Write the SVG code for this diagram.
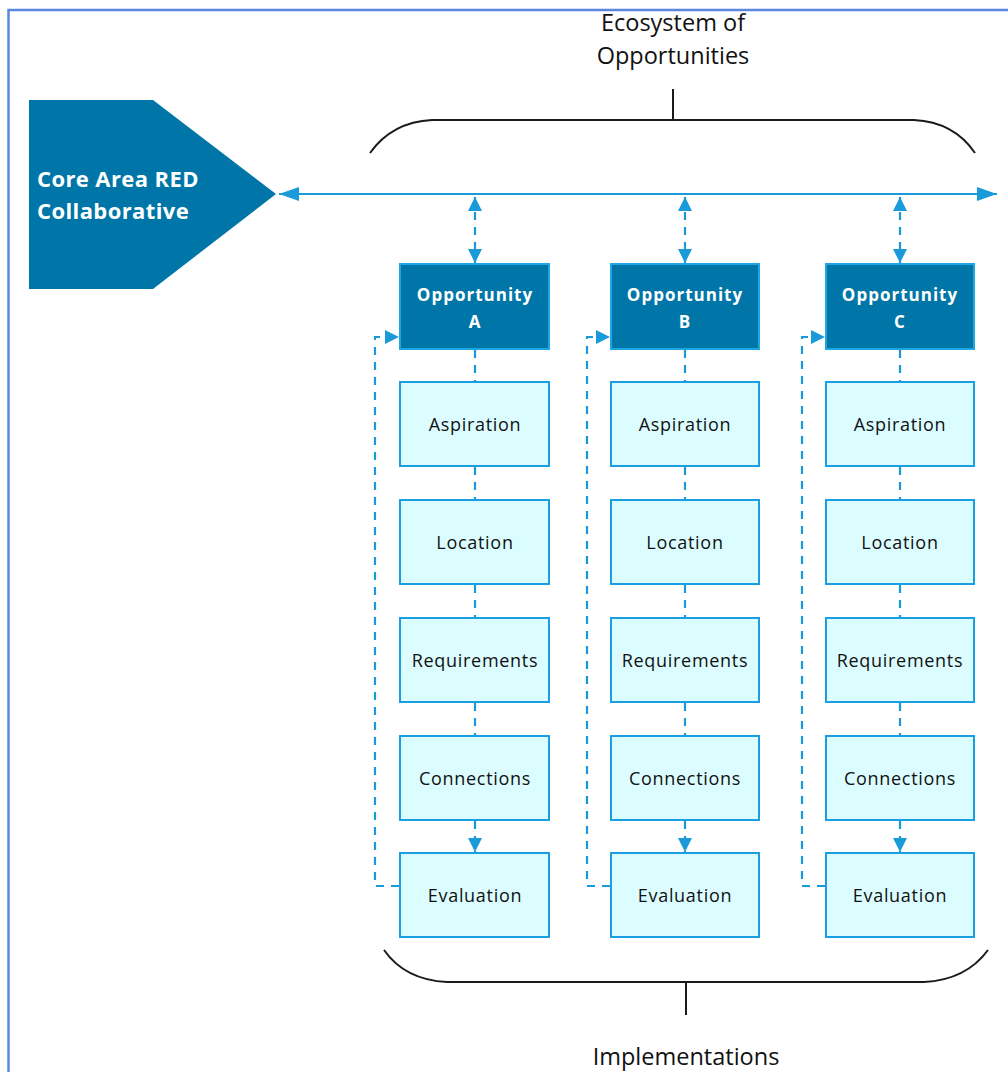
<svg xmlns="http://www.w3.org/2000/svg" width="1008" height="1072" viewBox="0 0 1008 1072">
  <defs>
    <style>
      .frame { fill: none; stroke: #5b86e0; stroke-width: 2.5; }
      .brace { fill: none; stroke: #1a1a1a; stroke-width: 2; }
      .lbl { font-family: "Open Sans", "Liberation Sans", sans-serif; font-size: 23.5px; fill: #111; text-anchor: middle; }
      .core { fill: #0076a8; }
      .coret { font-family: "Open Sans", "Liberation Sans", sans-serif; font-size: 22px; font-weight: bold; fill: #ffffff; letter-spacing: 0.4px; }
      .opp { fill: #0076a8; stroke: #1ea5e3; stroke-width: 2; }
      .oppt { font-family: "Open Sans", "Liberation Sans", sans-serif; font-size: 17px; font-weight: bold; fill: #ffffff; text-anchor: middle; letter-spacing: 1px; }
      .step { fill: #dcfdff; stroke: #1aa0e2; stroke-width: 2; }
      .stept { font-family: "Open Sans", "Liberation Sans", sans-serif; font-size: 18px; fill: #111; text-anchor: middle; letter-spacing: 0.7px; }
      .solid { fill: none; stroke: #1a9ad9; stroke-width: 2; }
      .dash { fill: none; stroke: #1a9ad9; stroke-width: 2.2; stroke-dasharray: 8 7; }
    </style>
    <marker id="ahBig" viewBox="0 0 20 14" refX="20" refY="7" markerWidth="20" markerHeight="14" markerUnits="userSpaceOnUse" orient="auto-start-reverse">
      <path d="M0,0 L20,7 L0,14 z" fill="#1a9ad9"/>
    </marker>
    <marker id="ahV" viewBox="0 0 14 14" refX="14" refY="7" markerWidth="14" markerHeight="14" markerUnits="userSpaceOnUse" orient="auto-start-reverse">
      <path d="M0,0 L14,7 L0,14 z" fill="#1a9ad9"/>
    </marker>
  </defs>

  <rect width="1008" height="1072" fill="#ffffff"/>
  <path class="frame" d="M8.5,1072 L8.5,10 L1008,10"/>

  <g id="ecosystem-label">
    <text class="lbl" x="673" y="31">Ecosystem of</text>
    <text class="lbl" x="673" y="64">Opportunities</text>
    <path class="brace" d="M370,153 Q392,122 432,120 L914,120 Q954,122 975,153"/>
    <line class="brace" x1="673" y1="89" x2="673" y2="120"/>
  </g>

  <g id="implementations-label">
    <path class="brace" d="M384,950 Q405,980 447,982 L924,982 Q966,980 988,950"/>
    <line class="brace" x1="686" y1="982" x2="686" y2="1015"/>
    <text class="lbl" x="686" y="1065">Implementations</text>
  </g>

  <g id="core-area">
    <polygon class="core" points="29,100 153,100 276,194 153,289 29,289"/>
    <text class="coret" x="37" y="187">Core Area RED</text>
    <text class="coret" x="37" y="219">Collaborative</text>
  </g>

  <g id="opportunity-a">
    <rect class="opp" x="400" y="264" width="149" height="85"/>
    <text class="oppt" x="475" y="301">Opportunity</text>
    <text class="oppt" x="475" y="328">A</text>
  </g>
  <g id="aspiration-a"><rect class="step" x="400" y="382" width="149" height="84"/><text class="stept" x="475" y="431">Aspiration</text></g>
  <g id="location-a"><rect class="step" x="400" y="500" width="149" height="84"/><text class="stept" x="475" y="549">Location</text></g>
  <g id="requirements-a"><rect class="step" x="400" y="618" width="149" height="84"/><text class="stept" x="475" y="667">Requirements</text></g>
  <g id="connections-a"><rect class="step" x="400" y="736" width="149" height="84"/><text class="stept" x="475" y="785">Connections</text></g>
  <g id="evaluation-a"><rect class="step" x="400" y="853" width="149" height="84"/><text class="stept" x="475" y="902">Evaluation</text></g>

  <g id="opportunity-b">
    <rect class="opp" x="611" y="264" width="148" height="85"/>
    <text class="oppt" x="685" y="301">Opportunity</text>
    <text class="oppt" x="685" y="328">B</text>
  </g>
  <g id="aspiration-b"><rect class="step" x="611" y="382" width="148" height="84"/><text class="stept" x="685" y="431">Aspiration</text></g>
  <g id="location-b"><rect class="step" x="611" y="500" width="148" height="84"/><text class="stept" x="685" y="549">Location</text></g>
  <g id="requirements-b"><rect class="step" x="611" y="618" width="148" height="84"/><text class="stept" x="685" y="667">Requirements</text></g>
  <g id="connections-b"><rect class="step" x="611" y="736" width="148" height="84"/><text class="stept" x="685" y="785">Connections</text></g>
  <g id="evaluation-b"><rect class="step" x="611" y="853" width="148" height="84"/><text class="stept" x="685" y="902">Evaluation</text></g>

  <g id="opportunity-c">
    <rect class="opp" x="826" y="264" width="148" height="85"/>
    <text class="oppt" x="900" y="301">Opportunity</text>
    <text class="oppt" x="900" y="328">C</text>
  </g>
  <g id="aspiration-c"><rect class="step" x="826" y="382" width="148" height="84"/><text class="stept" x="900" y="431">Aspiration</text></g>
  <g id="location-c"><rect class="step" x="826" y="500" width="148" height="84"/><text class="stept" x="900" y="549">Location</text></g>
  <g id="requirements-c"><rect class="step" x="826" y="618" width="148" height="84"/><text class="stept" x="900" y="667">Requirements</text></g>
  <g id="connections-c"><rect class="step" x="826" y="736" width="148" height="84"/><text class="stept" x="900" y="785">Connections</text></g>
  <g id="evaluation-c"><rect class="step" x="826" y="853" width="148" height="84"/><text class="stept" x="900" y="902">Evaluation</text></g>

  <g id="connectors">
    <line class="solid" x1="279" y1="194" x2="997" y2="194" marker-start="url(#ahBig)" marker-end="url(#ahBig)"/>

    <line class="dash" x1="475" y1="197" x2="475" y2="263" marker-start="url(#ahV)" marker-end="url(#ahV)"/>
    <line class="dash" x1="685" y1="197" x2="685" y2="263" marker-start="url(#ahV)" marker-end="url(#ahV)"/>
    <line class="dash" x1="900" y1="197" x2="900" y2="263" marker-start="url(#ahV)" marker-end="url(#ahV)"/>

    <path class="dash" d="M475,350 V381 M475,467 V499 M475,585 V617 M475,703 V735"/>
    <line class="dash" x1="475" y1="821" x2="475" y2="852" marker-end="url(#ahV)"/>
    <path class="dash" d="M685,350 V381 M685,467 V499 M685,585 V617 M685,703 V735"/>
    <line class="dash" x1="685" y1="821" x2="685" y2="852" marker-end="url(#ahV)"/>
    <path class="dash" d="M900,350 V381 M900,467 V499 M900,585 V617 M900,703 V735"/>
    <line class="dash" x1="900" y1="821" x2="900" y2="852" marker-end="url(#ahV)"/>

    <path class="dash" d="M399,886 H375 V337 H399" marker-end="url(#ahV)"/>
    <path class="dash" d="M610,886 H587 V337 H610" marker-end="url(#ahV)"/>
    <path class="dash" d="M825,886 H802 V337 H825" marker-end="url(#ahV)"/>
  </g>
</svg>
